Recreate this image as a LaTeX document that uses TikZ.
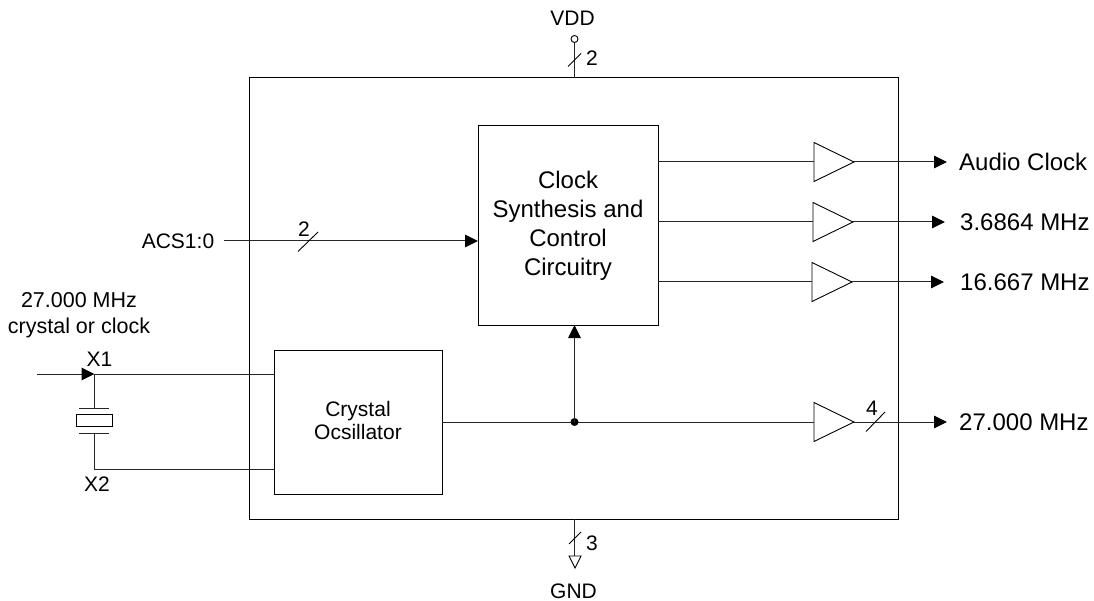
\documentclass[tikz,border=0pt]{standalone}
\usepackage{fontspec}
\setmainfont{Liberation Sans}
\usetikzlibrary{arrows.meta,shapes.geometric}
\tikzset{
  wire/.style={line width=1pt,black!85},
  arrowwire/.style={wire,-{Triangle[length=13pt,width=12.5pt,black]},shorten >=0pt},
  blockbox/.style={draw,line width=1pt,inner sep=0,outer sep=0,anchor=north west,align=center},
  buf/.style={draw,line width=0.9pt,isosceles triangle,isosceles triangle stretches,minimum width=39pt,minimum height=40pt,inner sep=0,outer sep=0,anchor=lower side},
  lbl/.style={inner sep=0,font=\fontsize{21}{24}\selectfont,align=center},
  outlbl/.style={inner sep=0,anchor=west,font=\fontsize{24}{28}\selectfont},
  slash/.style={line width=0.9pt},
}
\begin{document}
\begin{tikzpicture}[x=1pt,y=-1pt]
\useasboundingbox (0,0) rectangle (1094,601);
% blocks
\node[blockbox,minimum width=649pt,minimum height=441pt] (chip) at (249,78) {};
\node[blockbox,minimum width=180pt,minimum height=199pt,font=\fontsize{24}{29}\selectfont] (synth) at (478,126) {Clock\\Synthesis and\\Control\\Circuitry};
\node[blockbox,minimum width=168pt,minimum height=144pt] (osc) at (274,350) {};
\node[lbl,font=\fontsize{21}{23}\selectfont] (osctext) at (358,420) {Crystal\\Ocsillator};
% buffers
\node[buf] (b1) at (814,162) {};
\node[buf] (b2) at (813,222) {};
\node[buf] (b3) at (812,282) {};
\node[buf] (b4) at (814,422) {};
% output ends
\coordinate (o1) at (947,162);
\coordinate (o2) at (945,222);
\coordinate (o3) at (944,282);
\coordinate (o4) at (947,422);
\node[outlbl] (l1) at (959,162) {Audio Clock};
\node[outlbl] (l2) at (960,222) {3.6864 MHz};
\node[outlbl] (l3) at (960,282) {16.667 MHz};
\node[outlbl] (l4) at (959,422) {27.000 MHz};
\draw[wire] (synth.east |- b1.lower side) -- (b1.lower side);
\draw[wire] (synth.east |- b2.lower side) -- (b2.lower side);
\draw[wire] (synth.east |- b3.lower side) -- (b3.lower side);
\draw[arrowwire] (b1.apex) -- (o1);
\draw[arrowwire] (b2.apex) -- (o2);
\draw[arrowwire] (b3.apex) -- (o3);
\draw[arrowwire] (b4.apex) -- (o4);
% oscillator output
\draw[wire] (osc.east |- b4.lower side) -- (b4.lower side);
\coordinate (junc) at (574.5,422);
\fill (junc) circle (4pt);
\draw[arrowwire] (junc) -- (junc |- synth.south);
\draw[slash] (866,431.5) -- (885,412);
\node[lbl] (n4) at (872,408.5) {4};
% ACS
\node[lbl] (acs) at (178,241) {ACS1:0};
\coordinate (acsin) at (224,241);
\draw[arrowwire] (acsin) -- (synth.west |- acsin);
\draw[slash] (298,251.5) -- (318,232);
\node[lbl] (n2b) at (304,229) {2};
% VDD
\node[lbl] (vdd) at (572.5,18) {VDD};
\node[draw,circle,line width=0.9pt,minimum size=7pt,inner sep=0] (vddpin) at (574.5,39) {};
\draw[wire] (vddpin.south) -- (vddpin.south |- chip.north);
\draw[slash] (568,66.5) -- (581,53.5);
\node[lbl] (n2) at (592,58.5) {2};
% GND
\coordinate (gndtop) at (574.5,556);
\draw[wire] (chip.south -| gndtop) -- (gndtop);
\draw[line width=0.9pt] (569,556) -- (581,556) -- (575,568) -- cycle;
\draw[slash] (569,544) -- (581,532);
\node[lbl] (n3) at (592,543.5) {3};
\node[lbl] (gnd) at (573.5,591.5) {GND};
% crystal
\node[lbl,font=\fontsize{21.5}{26}\selectfont] (xtal) at (79,315) {27.000 MHz\\crystal or clock};
\coordinate (in) at (37,374);
\coordinate (x1) at (94.5,374);
\coordinate (pa) at (94.5,408);
\coordinate (pb) at (94.5,433);
\coordinate (x2) at (94.5,469);
\draw[wire] (x1) -- (osc.west |- x1);
\draw[wire,-{Triangle[length=13pt,width=12.5pt,black]}] (in) -- (x1);
\draw[wire] (x1) -- (pa);
\draw[wire] (79,408) -- (109,408);
\node[draw,line width=0.9pt,minimum width=36pt,minimum height=12pt,inner sep=0] (xbox) at (94.5,420.5) {};
\draw[wire] (79,433) -- (109,433);
\draw[wire] (pb) -- (x2) -- (osc.west |- x2);
\node[lbl] (nx1) at (99.5,359.5) {X1};
\node[lbl] (nx2) at (97,484.5) {X2};
\end{tikzpicture}
\end{document}
